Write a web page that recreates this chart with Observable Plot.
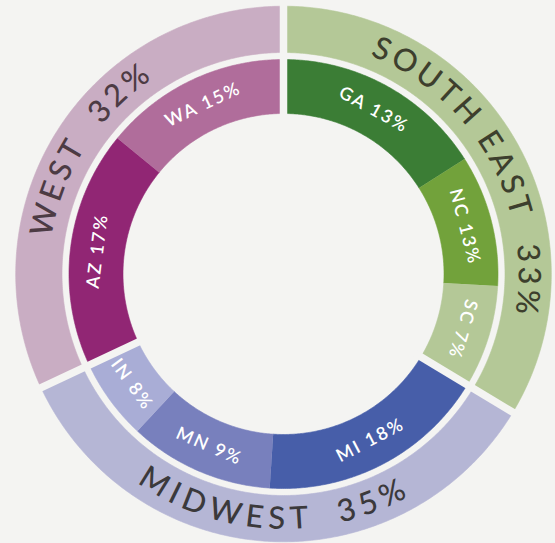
<!DOCTYPE html>
<html>
<head>
<meta charset="utf-8">
<script src="https://cdn.jsdelivr.net/npm/d3@7"></script>
<script src="https://cdn.jsdelivr.net/npm/@observablehq/plot@0.6"></script>
<style>
  html, body { margin: 0; padding: 0; background: #f4f4f2; }
  #chart { width: 555px; height: 543px; }
</style>
</head>
<body>
<div id="chart"></div>
<script>
// ---- data ----
const regions = ["SOUTH EAST", "MIDWEST", "WEST"];
const regionPct = [33, 35, 32];
const regionColors = ["#b4c897", "#b5b6d5", "#c9adc3"];
const regionTextColors = ["#3d3f2d", "#3b393b", "#4d3b44"];

const states = ["GA", "NC", "SC", "MI", "MN", "IN", "AZ", "WA"];
const stateRegion = ["SOUTH EAST", "SOUTH EAST", "SOUTH EAST", "MIDWEST", "MIDWEST", "MIDWEST", "WEST", "WEST"];
const statePct = [13, 13, 7, 18, 9, 8, 17, 15];            // printed labels
const stateShare = [16.0, 9.9, 7.75, 17.4, 10.9, 6.1, 17.9, 14.1]; // arc sizes as drawn
const stateColors = ["#3b7d35", "#72a23b", "#b4c897", "#475ea9", "#7880bd", "#a9add6", "#912674", "#b06d9b"];

// ---- geometry ----
const W = 555, H = 543, CX = 283, CY = 273.5;
const rHole = 160.5, rInnerOut = 214.5, rOuterIn = 221.5, rOuterOut = 267.8;
const rInnerText = 187.5, rOuterText = 245;
const BG = "#f4f4f2";
const rad = a => a * Math.PI / 180;
const polar = (r, a) => ({x: r * Math.sin(rad(a)), y: -r * Math.cos(rad(a))});

const total = d3.sum(stateShare);
let acc = 0;
const stateArcs = states.map((s, i) => {
  const a0 = acc / total * 360; acc += stateShare[i]; const a1 = acc / total * 360;
  return {name: s, region: stateRegion[i], a0, a1, mid: (a0 + a1) / 2, color: stateColors[i], label: `${s} ${statePct[i]}%`};
});
const regionArcs = regions.map((r, i) => {
  const arcs = stateArcs.filter(d => d.region === r);
  const a0 = arcs[0].a0, a1 = arcs[arcs.length - 1].a1;
  return {name: r, a0, a1, mid: (a0 + a1) / 2, color: regionColors[i], textColor: regionTextColors[i], label: `${r}  ${regionPct[i]}%`};
});

function ringPoints(arcs, r0, r1) {
  const pts = [];
  for (const d of arcs) {
    const n = Math.max(8, Math.ceil((d.a1 - d.a0) / 0.5));
    for (let k = 0; k <= n; k++) { const a = d.a0 + (d.a1 - d.a0) * k / n; pts.push({key: d.name, color: d.color, ...polar(r1, a)}); }
    for (let k = n; k >= 0; k--) { const a = d.a0 + (d.a1 - d.a0) * k / n; pts.push({key: d.name, color: d.color, ...polar(r0, a)}); }
  }
  return pts;
}

const flip = a => a > 120 && a < 262;

// inner labels
const innerLabels = stateArcs.map(d => ({...d, ...polar(rInnerText, d.mid), rot: flip(d.mid) ? d.mid - 180 : d.mid}));

// outer labels: per-character layout along the arc
const outerFont = {size: 31, weight: 500, family: "Lato", spacing: 4.8};
const ctx = document.createElement("canvas").getContext("2d");
ctx.font = `${outerFont.weight} ${outerFont.size}px ${outerFont.family}`;
const outerChars = [];
for (const d of regionArcs) {
  const chars = [...d.label];
  const w = chars.map(c => ctx.measureText(c).width);
  const adv = w.map(v => v + outerFont.spacing);
  const T = d3.sum(adv) - outerFont.spacing;
  const f = flip(d.mid);
  const dir = f ? -1 : 1;
  let off = 0;
  chars.forEach((c, i) => {
    const o = off + w[i] / 2 - T / 2;
    off += adv[i];
    const a = d.mid + dir * (o / rOuterText) * 180 / Math.PI;
    outerChars.push({ch: c, color: d.textColor, ...polar(rOuterText, a), rot: f ? a - 180 : a});
  });
}

const plot = Plot.plot({
  width: W, height: H, margin: 0,
  x: {domain: [-CX, W - CX], range: [0, W], axis: null},
  y: {domain: [-CY, H - CY], range: [0, H], axis: null},
  color: {type: "identity"},
  style: {background: BG},
  marks: [
    Plot.line(ringPoints(regionArcs, rOuterIn, rOuterOut), {x: "x", y: "y", z: "key", fill: "color", stroke: "color", strokeWidth: 0.6, curve: "linear"}),
    Plot.line(ringPoints(stateArcs, rHole, rInnerOut), {x: "x", y: "y", z: "key", fill: "color", stroke: "color", strokeWidth: 0.6, curve: "linear"}),
    Plot.link(regionArcs, {
      x1: d => polar(150, d.a0).x, y1: d => polar(150, d.a0).y,
      x2: d => polar(280, d.a0).x, y2: d => polar(280, d.a0).y,
      stroke: BG, strokeWidth: 7.5
    }),
    Plot.text(innerLabels, {x: "x", y: "y", text: "label", rotate: "rot", fill: "white", fontSize: 18, fontWeight: 600, fontFamily: "Lato", textAnchor: "middle", lineAnchor: "middle"}),
    Plot.text(outerChars, {x: "x", y: "y", text: "ch", rotate: "rot", fill: "color", fontSize: outerFont.size, fontWeight: outerFont.weight, fontFamily: outerFont.family, textAnchor: "middle", lineAnchor: "middle"})
  ]
});
d3.select(plot).selectAll("g[fill='white'] text").attr("letter-spacing", "2");
document.getElementById("chart").appendChild(plot);
</script>
</body>
</html>
